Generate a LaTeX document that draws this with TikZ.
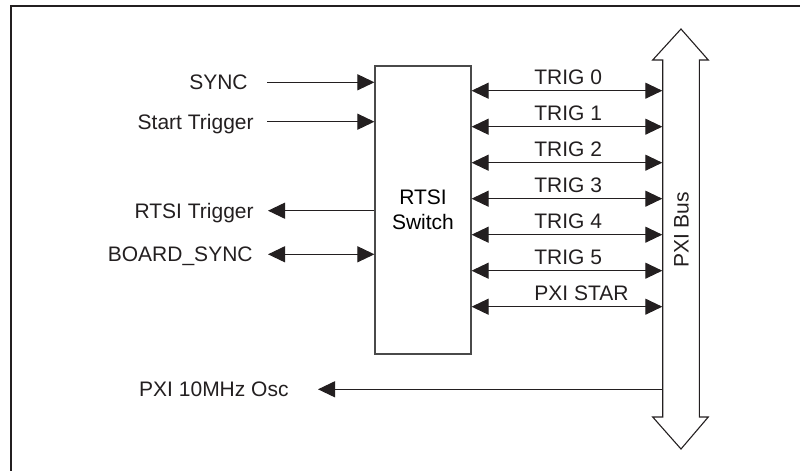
\documentclass[tikz,border=0pt]{standalone}
\usepackage{fontspec}
\setmainfont{Liberation Sans}
\usepackage{xcolor}
\usetikzlibrary{arrows.meta,positioning,calc}
\definecolor{ink}{HTML}{231F20}
\definecolor{boxgray}{HTML}{4A4A4A}
\tikzset{
    every picture/.style={line join=miter},
    switchbox/.style={draw=boxgray,line width=0.6pt,minimum width=48pt,
      minimum height=144pt,inner sep=0pt,align=center,
      font=\fontsize{10.5pt}{12.5pt}\selectfont},
    siglabel/.style={inner sep=0pt,text height=7.6pt,text depth=0pt,
      text=ink,font=\fontsize{10.5pt}{12.5pt}\selectfont},
    sigarrow/.style={-{Triangle[length=8.5pt,width=8pt]},draw=ink,
      line width=0.55pt},
    bothways/.style={{Triangle[length=8.5pt,width=8pt]}-{Triangle[length=8.5pt,width=8pt]},
      draw=ink,line width=0.55pt},
    busline/.style={draw=ink,line width=0.55pt}
}

\begin{document}
\begin{tikzpicture}[x=0.5pt,y=-0.5pt]
  \useasboundingbox (0,0) rectangle (800,471);
  % frame
  \draw[ink,line width=1.1pt] (11,471) -- (11,6) -- (800,6);
  % switch and bus
  \node[switchbox] (sw) at (423,210) {RTSI\\Switch};
  \draw[busline] (662.7,417) -- (662.7,60) -- (652.7,60) -- (681,29) -- (708.3,60)
    -- (699.3,60) -- (699.3,417) -- (708.3,417) -- (681,449) -- (652.7,417) -- cycle;
  \node[inner sep=0pt,minimum width=18.3pt,minimum height=178.5pt] (bus) at (681,238.5) {};
  \node[siglabel,rotate=90] (buslbl) at (681,230) {PXI Bus};
  % trigger lines
  \foreach \lbl [count=\i from 0] in {TRIG 0,TRIG 1,TRIG 2,TRIG 3,TRIG 4,TRIG 5,PXI STAR} {
    \pgfmathsetmacro\ty{90.7+36*\i}
    \node[siglabel,anchor=west] (trig\i) at (534,\ty-14) {\lbl};
    \draw[bothways] (sw.east |- 0,\ty) -- (bus.west |- 0,\ty);
  }
  % board side
  \node[siglabel,anchor=east] (sync) at (248,82.3) {SYNC};
  \node[siglabel,anchor=east] (start) at (254,121.7) {Start Trigger};
  \node[siglabel,anchor=east] (rtsi) at (254,210.7) {RTSI Trigger};
  \node[siglabel,anchor=east] (bsync) at (253,254.3) {BOARD\_SYNC};
  \node[siglabel,anchor=east] (osc) at (289,389.3) {PXI 10MHz Osc};
  \draw[sigarrow] ([xshift=9.5pt]sync.east) -- (sync -| sw.west);
  \draw[sigarrow] ([xshift=6.5pt]start.east) -- (start -| sw.west);
  \draw[sigarrow] (rtsi -| sw.west) -- ([xshift=7pt]rtsi.east);
  \draw[bothways] ([xshift=7.5pt]bsync.east) -- (bsync -| sw.west);
  \draw[sigarrow] (osc -| bus.west) -- ([xshift=14.5pt]osc.east);
\end{tikzpicture}
\end{document}
